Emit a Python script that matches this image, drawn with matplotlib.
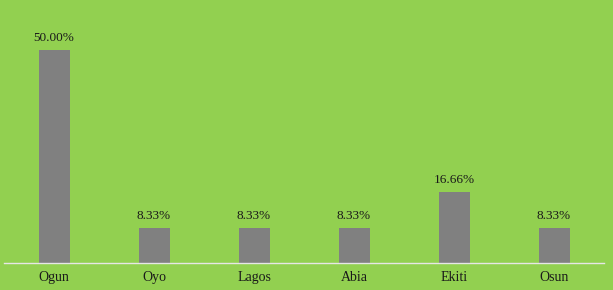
import matplotlib
matplotlib.use("Agg")
import matplotlib.pyplot as plt

categories = ["Ogun", "Oyo", "Lagos", "Abia", "Ekiti", "Osun"]
values = [50.00, 8.33, 8.33, 8.33, 16.66, 8.33]
labels = ["50.00%", "8.33%", "8.33%", "8.33%", "16.66%", "8.33%"]

bg = "#92D050"
fig = plt.figure(figsize=(6.13, 2.90), dpi=100, facecolor=bg)
ax = fig.add_axes([4/613, 27/290, 600/613, 255.6/290])
ax.set_facecolor(bg)

x = list(range(len(categories)))
bars = ax.bar(x, values, width=0.31, color="#808080", zorder=2)
ax.set_xlim(-0.5, len(categories) - 0.5)
ax.set_ylim(0, 60)

for xi, v, lab in zip(x, values, labels):
    ax.annotate(lab, (xi, v), xytext=(0, 4), textcoords="offset points",
                ha="center", va="bottom", fontsize=9.5,
                family="Liberation Serif", color="#1a1a1a")

for s in ["top", "right", "left"]:
    ax.spines[s].set_visible(False)
ax.spines["bottom"].set_color("#E6E6E6")
ax.spines["bottom"].set_linewidth(1.0)
ax.set_yticks([])
ax.set_xticks(x)
ax.set_xticklabels(categories, family="Liberation Serif", fontsize=10, color="#1a1a1a")
ax.tick_params(axis="x", length=0, pad=6)

fig.savefig("out.png", dpi=100, facecolor=bg)
